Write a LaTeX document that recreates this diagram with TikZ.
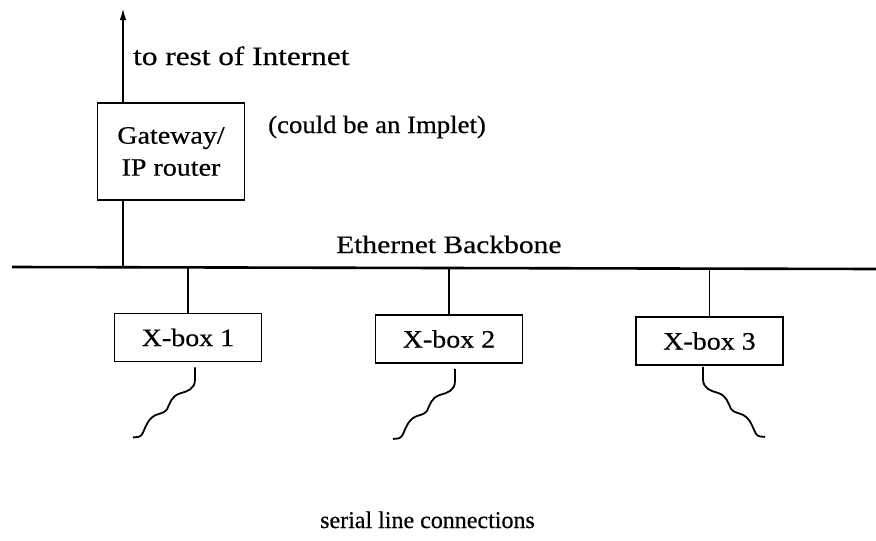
\documentclass[tikz,border=0pt]{standalone}
\usepackage{fontspec}
\setmainfont{Liberation Serif}[FakeStretch=1.12,FakeBold=0.5]
\newfontfamily\widefont{Liberation Serif}[FakeStretch=1.18,FakeBold=0.5]
\newfontfamily\midfont{Liberation Serif}[FakeStretch=1.07,FakeBold=0.5]
\newfontfamily\plainfont{Liberation Serif}[FakeStretch=1.0,FakeBold=0.5]
\usetikzlibrary{arrows.meta}

\tikzset{
  wire/.style={line width=1.8pt},
  bus/.style={line width=2.6pt},
  txt/.style={inner sep=0pt, font=\fontsize{25}{32}\selectfont},
  unit/.style={draw, line width=1.8pt, minimum width=147pt, minimum height=48pt,
               inner sep=0pt, font=\fontsize{25}{32}\selectfont},
  serial/.pic={
    \draw[wire] (0,0) -- (0,12)
      .. controls (0,22) and (-8,24) .. (-15,26)
      .. controls (-24,29) and (-25,36) .. (-28,42)
      .. controls (-31,46) and (-36,46) .. (-40,48)
      .. controls (-48,52) and (-50,62) .. (-53,67)
      .. controls (-55,70) and (-59,70) .. (-62,70);
  }
}

\begin{document}
\begin{tikzpicture}[x=1pt,y=-1pt]
  \fill[white] (0,0) rectangle (876,541);
  \useasboundingbox (0,0) rectangle (876,541);

  % gateway and the three X-boxes
  \node[unit, minimum height=97pt, align=center] (gw) at (171,151.5) {Gateway/\\IP router};
  \node[unit] (x1) at (188,337.5) {X-box 1};
  \node[unit] (x2) at (449,339) {X-box 2};
  \node[unit] (x3) at (709.5,341) {X-box 3};

  % backbone
  \coordinate (bbL) at (12,267);
  \coordinate (bbR) at (876,269);
  \draw[bus] (bbL) -- (bbR);

  % uplink of the gateway
  \coordinate (up) at (123,8);
  \draw[wire] (gw.south -| up) -- (up |- bbL);
  \draw[wire, -{Latex[length=12pt,width=6.5pt]}] (gw.north -| up) -- (up);

  % taps from the backbone to the X-boxes
  \draw[wire] (x1.north) -- (x1.north |- bbL);
  \draw[wire] (x2.north) -- (x2.north |- bbL);
  \draw[wire] (x3.north) -- (x3.north |- bbR);

  % serial lines
  \pic at ([xshift=7pt,yshift=-5pt]x1.south) {serial};
  \pic at ([xshift=6pt,yshift=-5pt]x2.south) {serial};
  \pic[xscale=-1] at ([xshift=-6.5pt,yshift=-1pt]x3.south) {serial};

  % labels
  \node[txt, anchor=base west, font=\fontsize{26.5}{32}\widefont] (inet) at (133,65) {to rest of Internet};
  \node[txt, anchor=base west, font=\fontsize{25}{32}\midfont] (note) at (268,133) {(could be an Implet)};
  \node[txt, anchor=base west, font=\fontsize{25}{32}\widefont] (bbl) at (336,253) {Ethernet Backbone};
  \node[txt, anchor=base west, font=\fontsize{24}{32}\plainfont] (ser) at (320,528) {serial line connections};
\end{tikzpicture}
\end{document}
